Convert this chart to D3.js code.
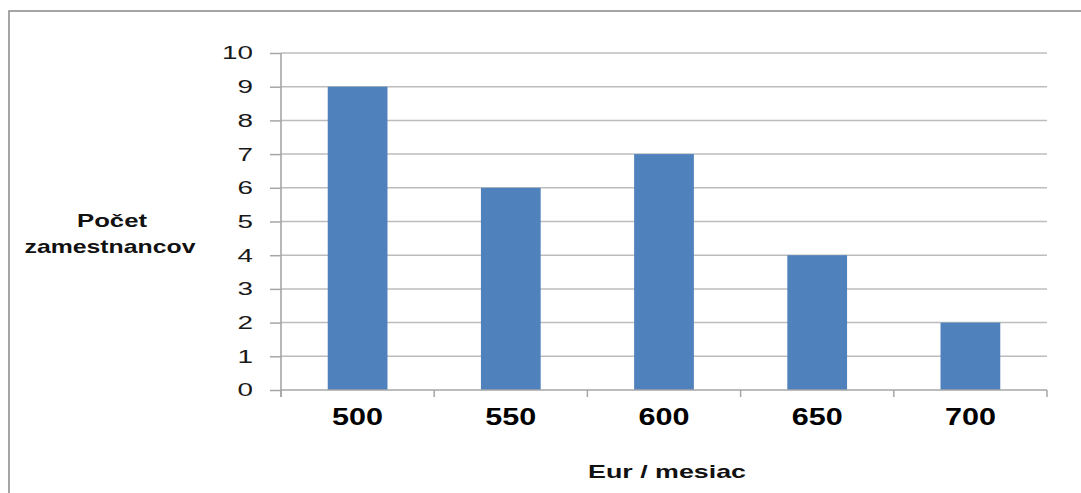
<!DOCTYPE html>
<html>
<head>
<meta charset="utf-8">
<script src="https://cdn.jsdelivr.net/npm/d3@7"></script>
<style>
  body { margin: 0; background: #fff; }
  svg { display: block; }
</style>
</head>
<body>
<div id="chart"></div>
<script>
// data
var categories = ["500", "550", "600", "650", "700"];
var counts = [9, 6, 7, 4, 2];
var yTicks = [0, 1, 2, 3, 4, 5, 6, 7, 8, 9, 10];

var width = 1081, height = 493;
var plot = { left: 281, right: 1047, top: 53, bottom: 390 };
var font = "'Liberation Sans', Arial, sans-serif";
var axisGrey = "#a6a6a6";

var svg = d3.select("#chart").append("svg")
    .attr("width", width)
    .attr("height", height);

// outer frame (runs off the right/bottom edge)
svg.append("rect")
    .attr("x", 9).attr("y", 11)
    .attr("width", 1100).attr("height", 520)
    .attr("fill", "none")
    .attr("stroke", "#8f8f8f")
    .attr("stroke-width", 1.6);

// bars sit in the middle of each category slot
var x = d3.scaleBand()
    .domain(categories)
    .range([plot.left, plot.right])
    .paddingInner(0.61)
    .paddingOuter(0.305);

var xb = d3.scaleBand().domain(categories).range([plot.left, plot.right]);

var y = d3.scaleLinear()
    .domain([0, 10])
    .range([plot.bottom, plot.top]);

// gridlines
svg.append("g")
    .selectAll("line")
    .data(yTicks.filter(function(d) { return d > 0; }))
    .enter()
    .append("line")
    .attr("x1", plot.left).attr("x2", plot.right)
    .attr("y1", function(d) { return y(d); })
    .attr("y2", function(d) { return y(d); })
    .attr("stroke", "#bcbcbc")
    .attr("stroke-width", 1.5);

// bars
svg.append("g")
    .selectAll("rect")
    .data(counts)
    .enter()
    .append("rect")
    .attr("x", function(d, i) { return x(categories[i]); })
    .attr("y", function(d) { return y(d); })
    .attr("width", x.bandwidth())
    .attr("height", function(d) { return y(0) - y(d); })
    .attr("fill", "#4f81bd");

// y axis (labels drawn separately so the "10" gets clipped like the original)
var yAxis = svg.append("g")
    .attr("transform", "translate(" + plot.left + ",0)")
    .call(d3.axisLeft(y).tickValues(yTicks).tickSize(11).tickFormat(""));
yAxis.select(".domain")
    .attr("d", "M0," + plot.top + "V" + (plot.bottom + 7))
    .attr("stroke", axisGrey).attr("stroke-width", 1.6);
yAxis.selectAll(".tick line").attr("stroke", axisGrey).attr("stroke-width", 1.5);

svg.append("clipPath").attr("id", "ylab-clip")
    .append("rect").attr("x", 0).attr("y", 0).attr("width", 252.5).attr("height", height);

svg.append("g")
    .attr("clip-path", "url(#ylab-clip)")
    .selectAll("text")
    .data(yTicks)
    .enter()
    .append("text")
    .attr("x", plot.left - 28)
    .attr("y", function(d) { return y(d); })
    .attr("dy", "0.36em")
    .attr("text-anchor", "end")
    .style("font-family", font)
    .style("font-size", "18px")
    .attr("fill", "#1a1a1a")
    .attr("textLength", function(d) { return String(d).length * 15.5; })
    .attr("lengthAdjust", "spacingAndGlyphs")
    .text(function(d) { return d; });

// x axis
var xAxis = svg.append("g")
    .attr("transform", "translate(0," + plot.bottom + ")")
    .call(d3.axisBottom(xb).tickSize(0).tickPadding(0));
xAxis.select(".domain")
    .attr("d", "M" + plot.left + ",0H" + plot.right)
    .attr("stroke", axisGrey).attr("stroke-width", 1.6);
xAxis.selectAll(".tick line").remove();
xAxis.selectAll(".tick text")
    .attr("y", 35)
    .attr("dy", null)
    .style("font-family", font)
    .style("font-size", "24px")
    .style("font-weight", "bold")
    .attr("fill", "#000")
    .attr("textLength", 51)
    .attr("lengthAdjust", "spacingAndGlyphs");

// category boundary ticks
xAxis.append("g")
    .selectAll("line")
    .data(d3.range(categories.length + 1))
    .enter()
    .append("line")
    .attr("x1", function(i) { return plot.left + i * xb.step(); })
    .attr("x2", function(i) { return plot.left + i * xb.step(); })
    .attr("y1", 0).attr("y2", 7)
    .attr("stroke", axisGrey).attr("stroke-width", 1.5);

// axis titles
function title(txt, cx, yy, len) {
    svg.append("text")
        .attr("x", cx).attr("y", yy)
        .attr("text-anchor", "middle")
        .style("font-family", font).style("font-size", "19px").style("font-weight", "bold")
        .attr("fill", "#111")
        .attr("textLength", len).attr("lengthAdjust", "spacingAndGlyphs")
        .text(txt);
}
title("Počet", 112, 227, 70);
title("zamestnancov", 110, 253, 171);
title("Eur / mesiac", 667, 478, 158);
</script>
</body>
</html>
